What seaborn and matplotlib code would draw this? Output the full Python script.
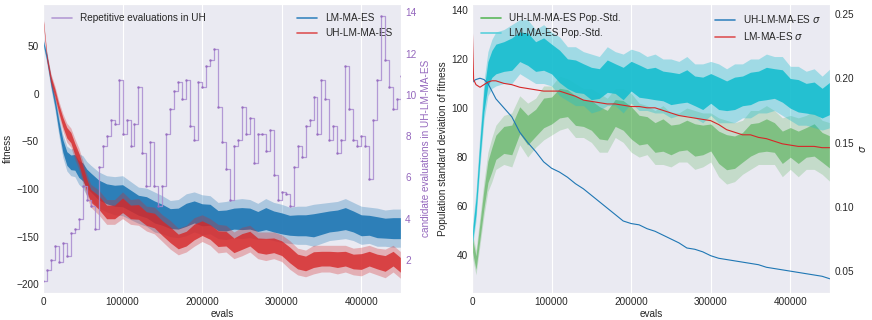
import numpy as np
import pandas as pd
import matplotlib
matplotlib.use("Agg")
import matplotlib.pyplot as plt
from matplotlib.lines import Line2D
import seaborn as sns

# ---- left panel: fitness over evaluations ----
fit_evals = [0, 5000, 10000, 15000, 20000, 25000, 30000, 35000, 40000, 45000,
             50000, 55000, 60000, 70000, 80000, 90000, 100000, 110000, 120000,
             130000, 140000, 150000, 160000, 170000, 180000, 190000, 200000,
             210000, 220000, 230000, 240000, 250000, 260000, 270000, 280000,
             290000, 300000, 310000, 320000, 330000, 340000, 350000, 360000,
             370000, 380000, 390000, 400000, 410000, 420000, 430000, 440000,
             450000]
lm_fit = [55, 37, 12, -9, -34, -55, -68, -72, -72, -79, -82, -89, -93, -101,
          -105, -107, -107, -112, -117, -119, -124, -127, -131, -131, -127,
          -124, -127, -127, -133, -133, -131, -131, -131, -134, -131, -134,
          -136, -138, -138, -138, -138, -136, -134, -133, -131, -134, -138,
          -138, -140, -141, -141, -141]
lm_fit_spread = [4, 6, 7, 8, 10, 12, 13, 14, 15, 16, 17, 18, 18, 19, 19, 20,
                 21, 20, 19, 20, 21, 20, 19, 20, 22, 21, 21, 20, 19, 20, 20,
                 21, 20, 19, 21, 20, 20, 19, 20, 20, 22, 21, 20, 20, 21, 20,
                 20, 19, 20, 19, 20, 20]
uh_fit = [80, 37, 15, 1, -16, -30, -41, -46, -58, -68, -82, -96, -107, -114,
          -124, -124, -117, -124, -124, -131, -133, -141, -148, -155, -152,
          -145, -141, -145, -152, -152, -159, -155, -152, -159, -160, -159,
          -162, -169, -176, -178, -174, -173, -173, -174, -173, -176, -176,
          -173, -176, -178, -173, -180]
uh_fit_spread = [3, 5, 6, 7, 8, 9, 10, 10, 11, 11, 12, 12, 12, 13, 13, 13, 14,
                 13, 14, 13, 14, 14, 15, 14, 14, 15, 14, 14, 15, 14, 14, 15,
                 14, 14, 15, 14, 14, 15, 14, 14, 15, 14, 14, 15, 14, 14, 15,
                 14, 14, 15, 14, 14]

rep_evals = [0, 5000, 10000, 15000, 20000, 25000, 30000, 35000, 40000, 45000,
             50000, 55000, 60000, 65000, 70000, 75000, 80000, 85000, 90000,
             95000, 100000, 105000, 110000, 115000, 120000, 125000, 130000,
             135000, 140000, 145000, 150000, 155000, 160000, 165000, 170000,
             175000, 180000, 185000, 190000, 195000, 200000, 205000, 210000,
             215000, 220000, 225000, 230000, 235000, 240000, 245000, 250000,
             255000, 260000, 265000, 270000, 275000, 280000, 285000, 290000,
             295000, 300000, 305000, 310000, 315000, 320000, 325000, 330000,
             335000, 340000, 345000, 350000, 355000, 360000, 365000, 370000,
             375000, 380000, 385000, 390000, 395000, 400000, 405000, 410000,
             415000, 420000, 425000, 430000, 435000, 440000, 445000, 450000]
rep_cand = [1.0, 1.5, 2.0, 2.7, 1.9, 2.8, 2.2, 3.3, 3.5, 4.0,
            5.6, 4.9, 4.6, 3.5, 6.5, 7.5, 8.0, 8.8, 8.6,
            10.7, 8.1, 8.8, 7.5, 8.6, 10.4, 7.2, 5.6,
            7.7, 5.6, 4.6, 5.6, 8.1, 9.3, 10.2, 10.6,
            9.8, 10.7, 8.5, 7.8, 10.6, 10.4, 11.4, 11.7,
            12.2, 9.4, 7.7, 6.4, 4.9, 7.5, 7.8, 9.4,
            8.1, 8.9, 6.7, 8.1, 8.1, 7.3, 8.3, 6.1,
            4.9, 5.3, 5.2, 4.6, 6.5, 7.5, 7.0, 8.5,
            8.8, 9.9, 8.1, 10.7, 9.8, 7.8, 8.5, 7.2,
            7.8, 11.4, 9.3, 7.8, 7.5, 8.0, 7.5, 5.9,
            8.8, 10.7, 13.8, 11.7, 10.4, 9.3, 9.8, 10.9]

# ---- right panel: population std and sigma ----
std_evals = [0, 5000, 10000, 15000, 20000, 25000, 30000, 40000, 50000, 60000,
             70000, 80000, 90000, 100000, 110000, 120000, 130000, 140000,
             150000, 160000, 170000, 180000, 190000, 200000, 210000, 220000,
             230000, 240000, 250000, 260000, 270000, 280000, 290000, 300000,
             310000, 320000, 330000, 340000, 350000, 360000, 370000, 380000,
             390000, 400000, 410000, 420000, 430000, 440000, 450000]
uh_std = [45, 37, 50, 63, 74, 79, 84, 87, 87, 95, 91, 94, 98, 99, 102, 102,
          99, 98, 97, 94, 93, 98, 97, 94, 91, 91, 88, 89, 87, 88, 89, 87, 87,
          88, 84, 82, 82, 84, 87, 88, 89, 88, 84, 86, 84, 86, 87, 84, 82]
uh_std_spread = [5, 5, 6, 7, 8, 9, 9, 10, 11, 10, 11, 10, 11, 10, 11, 10, 11,
                 10, 11, 12, 11, 10, 11, 12, 11, 10, 11, 12, 11, 10, 11, 12,
                 11, 10, 12, 13, 12, 11, 12, 11, 12, 11, 12, 11, 12, 11, 12,
                 11, 12]
lm_std = [46, 60, 83, 103, 114, 118, 120, 121, 122, 125, 124, 121, 122, 120,
          117, 114, 113, 112, 110, 110, 113, 112, 110, 113, 111, 110, 110,
          109, 108, 108, 109, 107, 106, 108, 106, 105, 106, 107, 108, 109,
          110, 110, 109, 106, 105, 104, 104, 102, 104]
lm_std_spread = [4, 6, 7, 8, 9, 10, 11, 11, 12, 11, 12, 11, 12, 11, 12, 11, 12,
                 11, 12, 11, 12, 11, 12, 11, 12, 11, 12, 11, 12, 11, 12, 11,
                 12, 11, 12, 11, 12, 11, 12, 11, 12, 11, 12, 11, 12, 11, 12,
                 11, 12]

sig_evals = [0, 2000, 5000, 10000, 15000, 20000, 25000, 30000, 40000, 50000,
             60000, 70000, 80000, 90000, 100000, 110000, 120000, 130000,
             140000, 150000, 160000, 170000, 180000, 190000, 200000, 210000,
             220000, 230000, 240000, 250000, 260000, 270000, 280000, 290000,
             300000, 310000, 320000, 330000, 340000, 350000, 360000, 370000,
             380000, 390000, 400000, 410000, 420000, 430000, 440000, 450000]
uh_sigma = [0.196, 0.198, 0.199, 0.200, 0.199, 0.196, 0.190, 0.184, 0.177,
            0.170, 0.158, 0.150, 0.143, 0.135, 0.130, 0.127, 0.123, 0.118,
            0.114, 0.109, 0.104, 0.099, 0.094, 0.089, 0.087, 0.086, 0.083,
            0.081, 0.078, 0.075, 0.072, 0.068, 0.067, 0.065, 0.062, 0.060,
            0.059, 0.058, 0.057, 0.056, 0.055, 0.053, 0.052, 0.051, 0.050,
            0.049, 0.048, 0.047, 0.046, 0.044]
lm_sigma = [0.248, 0.199, 0.195, 0.193, 0.195, 0.197, 0.198, 0.198, 0.196,
            0.195, 0.193, 0.192, 0.191, 0.190, 0.190, 0.190, 0.188, 0.186,
            0.183, 0.182, 0.181, 0.180, 0.180, 0.179, 0.178, 0.178, 0.177,
            0.177, 0.175, 0.173, 0.171, 0.170, 0.169, 0.168, 0.167, 0.164,
            0.160, 0.158, 0.156, 0.156, 0.154, 0.153, 0.151, 0.149, 0.148,
            0.147, 0.147, 0.147, 0.146, 0.146]

sns.set_style("darkgrid")
plt.rcParams['font.family'] = ['Liberation Sans', 'DejaVu Sans']
FS = 7.2
TXT = '.15'
BLUE, RED, GREEN, CYAN, PURPLE = '#1f77b4', '#d62728', '#2ca02c', '#17becf', '#9467bd'


def envelope(x, mid, spread, frac):
    # two rows per x (lower / upper edge), so the min-max band is the envelope
    mid = np.asarray(mid, float)
    spread = np.asarray(spread, float) * frac
    return pd.DataFrame({'evals': list(x) * 2,
                         'value': list(mid - spread) + list(mid + spread)})


def band(ax, x, mid, spread, color, outer_alpha, inner_alpha):
    sns.lineplot(data=envelope(x, mid, spread, 1.0), x='evals', y='value',
                 ax=ax, color=color, lw=0, errorbar=('pi', 100),
                 err_kws={'alpha': outer_alpha, 'lw': 0})
    sns.lineplot(data=envelope(x, mid, spread, 0.55), x='evals', y='value',
                 ax=ax, color=color, lw=0, errorbar=('pi', 100),
                 err_kws={'alpha': inner_alpha, 'lw': 0})


def style_axis(ax):
    ax.tick_params(axis='both', labelsize=FS, colors=TXT, length=0, pad=3)
    ax.ticklabel_format(axis='x', style='plain', useOffset=False)
    ax.set_xlim(0, 450000)
    ax.set_xticks([0, 100000, 200000, 300000, 400000])
    ax.grid(axis='y', visible=False)


def handles(colors):
    return [Line2D([], [], color=c, lw=1.2) for c in colors]


fig = plt.figure(figsize=(8.72, 3.2), dpi=100)
ax1 = fig.add_axes([0.0493, 0.0844, 0.4106, 0.903])
ax2 = fig.add_axes([0.5413, 0.0844, 0.4106, 0.903])

# left
band(ax1, fit_evals, lm_fit, lm_fit_spread, BLUE, 0.3, 0.9)
band(ax1, fit_evals, uh_fit, uh_fit_spread, RED, 0.3, 0.8)
ax1.set_ylim(-209, 94)
ax1.set_ylabel('fitness', fontsize=FS, color=TXT, labelpad=2)
ax1.set_xlabel('evals', fontsize=FS, color=TXT, labelpad=1)
style_axis(ax1)
ax1.legend(handles(['#3a87c0', '#dd5556']), ['LM-MA-ES', 'UH-LM-MA-ES'],
           loc='upper right', frameon=False, fontsize=FS,
           bbox_to_anchor=(1.0, 1.0), handlelength=2.0)

ax1b = ax1.twinx()
rep_df = pd.DataFrame({'evals': rep_evals, 'cand': rep_cand})
sns.lineplot(data=rep_df, x='evals', y='cand', ax=ax1b, color='#a98bd0',
             lw=0.9, alpha=0.85, drawstyle='steps-post', marker='o',
             markersize=1.8, markeredgewidth=0, markerfacecolor=PURPLE)
ax1b.set_ylim(0.4, 14.4)
ax1b.set_yticks([2, 4, 6, 8, 10, 12, 14])
ax1b.grid(False)
ax1b.tick_params(axis='y', labelsize=FS, colors=PURPLE, length=0, pad=3)
ax1b.set_ylabel('candidate evaluations in UH-LM-MA-ES', fontsize=FS,
                color=PURPLE, labelpad=3)
ax1b.set_xlim(0, 450000)
ax1b.legend(handles(['#b59bd4']), ['Repetitive evaluations in UH'],
            loc='upper left', frameon=False, fontsize=FS, handlelength=2.0)

# right
band(ax2, std_evals, uh_std, uh_std_spread, GREEN, 0.2, 0.45)
band(ax2, std_evals, lm_std, lm_std_spread, CYAN, 0.35, 0.9)
ax2.set_ylim(24.6, 142.4)
ax2.set_yticks([40, 60, 80, 100, 120, 140])
ax2.set_ylabel('Population standard deviation of fitness', fontsize=FS,
               color=TXT, labelpad=2)
ax2.set_xlabel('evals', fontsize=FS, color=TXT, labelpad=1)
style_axis(ax2)
ax2.legend(handles(['#5cb85c', '#5bd0dc']),
           ['UH-LM-MA-ES Pop.-Std.', 'LM-MA-ES Pop.-Std.'],
           loc='upper left', frameon=False, fontsize=FS, handlelength=2.0)

ax2b = ax2.twinx()
sig_df = pd.DataFrame({'evals': sig_evals, 'uh': uh_sigma, 'lm': lm_sigma})
sns.lineplot(data=sig_df, x='evals', y='uh', ax=ax2b, color=BLUE, lw=0.8)
sns.lineplot(data=sig_df, x='evals', y='lm', ax=ax2b, color=RED, lw=0.8)
ax2b.set_ylim(0.033, 0.2577)
ax2b.set_yticks([0.05, 0.10, 0.15, 0.20, 0.25])
ax2b.set_yticklabels(['0.05', '0.10', '0.15', '0.20', '0.25'])
ax2b.grid(False)
ax2b.tick_params(axis='y', labelsize=FS, colors=TXT, length=0, pad=3)
ax2b.set_ylabel('$\\sigma$', fontsize=FS, color=TXT, labelpad=3)
ax2b.set_xlim(0, 450000)
ax2b.legend(handles(['#3a87c0', '#dd5556']),
            ['UH-LM-MA-ES $\\sigma$', 'LM-MA-ES $\\sigma$'],
            loc='upper right', frameon=False, fontsize=FS, handlelength=2.0,
            bbox_to_anchor=(1.0, 1.0))

fig.savefig('out.png', dpi=100)
